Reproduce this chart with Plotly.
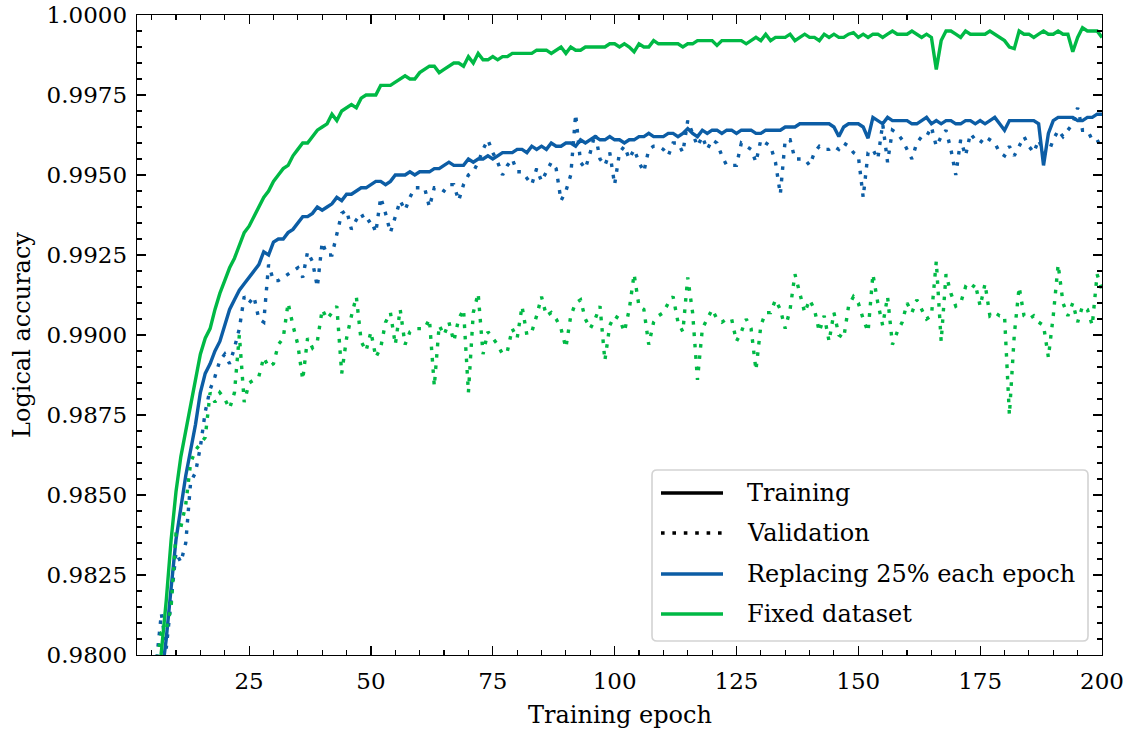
import plotly.graph_objects as go

epochs = list(range(1, 201))

fixed_train = [
    0.9000, 0.9500, 0.9660, 0.9730, 0.9770, 0.9785, 0.9800, 0.9817, 0.9836, 0.9851,
    0.9862, 0.9870, 0.9879, 0.9887, 0.9894, 0.9899, 0.9902, 0.9908, 0.9913, 0.9917,
    0.9921, 0.9924, 0.9928, 0.9932, 0.9934, 0.9937, 0.9940, 0.9943, 0.9945, 0.9948,
    0.9950, 0.9952, 0.9953, 0.9956, 0.9958, 0.9960, 0.9960, 0.9962, 0.9964, 0.9965,
    0.9966, 0.9969, 0.9967, 0.9970, 0.9971, 0.9972, 0.9971, 0.9974, 0.9975, 0.9975,
    0.9975, 0.9978, 0.9978, 0.9978, 0.9979, 0.9980, 0.9981, 0.9980, 0.9980, 0.9982,
    0.9983, 0.9984, 0.9984, 0.9982, 0.9983, 0.9984, 0.9985, 0.9985, 0.9984, 0.9987,
    0.9985, 0.9988, 0.9986, 0.9986, 0.9987, 0.9986, 0.9987, 0.9987, 0.9988, 0.9988,
    0.9988, 0.9988, 0.9988, 0.9989, 0.9989, 0.9989, 0.9988, 0.9989, 0.9990, 0.9988,
    0.9990, 0.9989, 0.9989, 0.9990, 0.9990, 0.9990, 0.9990, 0.9990, 0.9991, 0.9991,
    0.9990, 0.9991, 0.9990, 0.99885, 0.9991, 0.9990, 0.9990, 0.9992, 0.9991, 0.9991,
    0.9991, 0.9991, 0.9991, 0.9990, 0.9991, 0.9991, 0.9992, 0.9992, 0.9992, 0.9992,
    0.99905, 0.9992, 0.9992, 0.9992, 0.9992, 0.9992, 0.9991, 0.9992, 0.9993, 0.9992,
    0.9994, 0.9992, 0.9993, 0.9993, 0.9993, 0.9994, 0.9992, 0.9993, 0.9994, 0.9993,
    0.9993, 0.9992, 0.9994, 0.9993, 0.9994, 0.9993, 0.9993, 0.9994, 0.99945, 0.9993,
    0.9994, 0.9993, 0.9994, 0.9994, 0.9993, 0.9994, 0.9995, 0.9994, 0.9994, 0.9994,
    0.9995, 0.9994, 0.9993, 0.9994, 0.9993, 0.9983, 0.9992, 0.9995, 0.9995, 0.9994,
    0.9993, 0.9995, 0.9994, 0.9994, 0.9994, 0.9994, 0.9995, 0.9994, 0.9993, 0.9992,
    0.9990, 0.99895, 0.9995, 0.9994, 0.9994, 0.9993, 0.9994, 0.9995, 0.9994, 0.9994,
    0.9995, 0.9994, 0.9994, 0.99885, 0.9993, 0.9996, 0.9995, 0.9995, 0.9995, 0.9993,
]

replace_train = [
    0.9000, 0.9400, 0.9600, 0.9700, 0.9750, 0.9780, 0.9792, 0.9805, 0.9821, 0.9836,
    0.9846, 0.9856, 0.9864, 0.9872, 0.9882, 0.9888, 0.9891, 0.9895, 0.9898, 0.9903,
    0.9908, 0.9911, 0.9914, 0.9916, 0.9918, 0.9920, 0.9922, 0.9926, 0.9925, 0.9929,
    0.9930, 0.9930, 0.9932, 0.9933, 0.9935, 0.9937, 0.9937, 0.9938, 0.9940, 0.9939,
    0.9940, 0.9941, 0.9943, 0.9942, 0.9944, 0.9944, 0.9945, 0.9946, 0.9946, 0.9947,
    0.9948, 0.9948, 0.9947, 0.9948, 0.9950, 0.9950, 0.9950, 0.9951, 0.9950, 0.9951,
    0.9951, 0.9951, 0.9952, 0.9952, 0.9953, 0.9954, 0.9953, 0.9953, 0.9953, 0.9955,
    0.9954, 0.9955, 0.9955, 0.9956, 0.9955, 0.9956, 0.9957, 0.9957, 0.9957, 0.9958,
    0.9958, 0.9957, 0.9959, 0.9958, 0.9959, 0.9958, 0.9960, 0.9959, 0.9959, 0.9960,
    0.9960, 0.9959, 0.9961, 0.9960, 0.9961, 0.9962, 0.9961, 0.9961, 0.9962, 0.9961,
    0.9961, 0.9960, 0.9961, 0.9961, 0.9962, 0.9962, 0.9963, 0.9962, 0.9962, 0.9962,
    0.9963, 0.9963, 0.9962, 0.9963, 0.99645, 0.9963, 0.9962, 0.9964, 0.9963, 0.9964,
    0.9964, 0.9963, 0.9964, 0.9964, 0.9963, 0.9964, 0.9964, 0.9964, 0.9963, 0.9963,
    0.9964, 0.9964, 0.9964, 0.9964, 0.9965, 0.9965, 0.9965, 0.9966, 0.9966, 0.9966,
    0.9966, 0.9966, 0.9966, 0.9966, 0.9965, 0.9962, 0.9965, 0.9966, 0.9966, 0.9966,
    0.9965, 0.99615, 0.9968, 0.9967, 0.9966, 0.9968, 0.9967, 0.9967, 0.9967, 0.9967,
    0.9966, 0.9966, 0.9967, 0.9968, 0.9966, 0.9967, 0.9966, 0.9967, 0.9967, 0.9966,
    0.9966, 0.9967, 0.9967, 0.9966, 0.9967, 0.9966, 0.9967, 0.9968, 0.9966, 0.9964,
    0.9967, 0.9967, 0.9967, 0.9967, 0.9967, 0.9967, 0.9966, 0.9953, 0.9963, 0.9967,
    0.9968, 0.9968, 0.9968, 0.9968, 0.9967, 0.9967, 0.9968, 0.9968, 0.9969, 0.9969,
]

replace_val = [
    0.9500, 0.9650, 0.9720, 0.9760, 0.9785, 0.9798, 0.9813, 0.9802, 0.9818, 0.9832,
    0.9829, 0.9835, 0.9854, 0.9857, 0.9865, 0.9876, 0.9883, 0.9887, 0.9892, 0.9894,
    0.9891, 0.9896, 0.9902, 0.9912, 0.9910, 0.9912, 0.9905, 0.9904, 0.9922, 0.9917,
    0.9917, 0.9918, 0.9919, 0.9920, 0.9921, 0.9918, 0.9926, 0.9923, 0.9915, 0.9929,
    0.9925, 0.9925, 0.9931, 0.9938, 0.9939, 0.9933, 0.9936, 0.9938, 0.9935, 0.9936,
    0.9932, 0.9943, 0.9938, 0.9932, 0.9937, 0.9942, 0.9939, 0.9943, 0.9946, 0.9946,
    0.9946, 0.9940, 0.9946, 0.9946, 0.9945, 0.9947, 0.9947, 0.9942, 0.9947, 0.9950,
    0.9951, 0.9954, 0.9958, 0.9961, 0.9957, 0.9954, 0.9950, 0.9953, 0.9955, 0.9951,
    0.9951, 0.9949, 0.9947, 0.9952, 0.9948, 0.9951, 0.9954, 0.9952, 0.9942, 0.9945,
    0.9950, 0.9969, 0.9954, 0.9952, 0.9957, 0.9963, 0.9955, 0.9953, 0.9957, 0.9947,
    0.9957, 0.9959, 0.9955, 0.9958, 0.9954, 0.9951, 0.9958, 0.9959, 0.9959, 0.9958,
    0.9956, 0.9960, 0.9960, 0.9957, 0.9967, 0.9963, 0.9959, 0.9962, 0.9958, 0.9961,
    0.9960, 0.9956, 0.9953, 0.9953, 0.9953, 0.9960, 0.9959, 0.9958, 0.9954, 0.9961,
    0.9960, 0.9959, 0.9954, 0.9944, 0.9961, 0.9961, 0.9955, 0.9955, 0.9955, 0.9953,
    0.9957, 0.9959, 0.9958, 0.9958, 0.9959, 0.9958, 0.9960, 0.9959, 0.9957, 0.9956,
    0.9943, 0.9957, 0.9958, 0.9955, 0.9966, 0.9954, 0.9964, 0.9963, 0.9961, 0.9958,
    0.9955, 0.9960, 0.9962, 0.9962, 0.9965, 0.9959, 0.9962, 0.9964, 0.9958, 0.9950,
    0.9961, 0.9956, 0.9963, 0.9961, 0.9960, 0.9962, 0.9961, 0.9960, 0.9957, 0.9956,
    0.9959, 0.9956, 0.9959, 0.9962, 0.9959, 0.9957, 0.9961, 0.9957, 0.9957, 0.9961,
    0.9964, 0.9962, 0.9964, 0.9966, 0.9971, 0.9964, 0.9964, 0.9961, 0.9961, 0.9958,
]

fixed_val = [
    0.9450, 0.9620, 0.9700, 0.9750, 0.9780, 0.9797, 0.9807, 0.9808, 0.9815, 0.9838,
    0.9840, 0.9847, 0.9860, 0.9864, 0.9866, 0.9868, 0.9882, 0.9879, 0.9882, 0.9880,
    0.9877, 0.9882, 0.9900, 0.9879, 0.9885, 0.9886, 0.9887, 0.9893, 0.9890, 0.9891,
    0.9897, 0.9899, 0.9910, 0.9903, 0.9897, 0.9886, 0.9899, 0.9896, 0.9898, 0.9908,
    0.9905, 0.9907, 0.9909, 0.9888, 0.9899, 0.9906, 0.9912, 0.9898, 0.9895, 0.9901,
    0.9893, 0.9896, 0.9904, 0.9907, 0.9897, 0.9908, 0.9897, 0.9901, 0.9902, 0.9902,
    0.9902, 0.9905, 0.9884, 0.9903, 0.9900, 0.9904, 0.9898, 0.9905, 0.9908, 0.9882,
    0.9907, 0.9913, 0.9894, 0.9901, 0.9899, 0.9897, 0.9894, 0.9895, 0.9902, 0.9899,
    0.9909, 0.9900, 0.9901, 0.9906, 0.9912, 0.9906, 0.9907, 0.9905, 0.9902, 0.9896,
    0.9906, 0.9910, 0.9911, 0.9905, 0.9902, 0.9905, 0.9909, 0.9892, 0.9903, 0.9906,
    0.9905, 0.9901, 0.9908, 0.9919, 0.9909, 0.9908, 0.9897, 0.9904, 0.9906, 0.9907,
    0.9910, 0.9912, 0.9904, 0.9901, 0.9918, 0.9907, 0.9886, 0.9902, 0.9905, 0.9908,
    0.9905, 0.9904, 0.9905, 0.9905, 0.9898, 0.9901, 0.9905, 0.9902, 0.9889, 0.9903,
    0.9907, 0.9907, 0.9911, 0.9908, 0.9902, 0.9908, 0.9919, 0.9913, 0.9907, 0.9911,
    0.9908, 0.9901, 0.9906, 0.9898, 0.9907, 0.9900, 0.9899, 0.9909, 0.9912, 0.9910,
    0.9905, 0.9901, 0.9919, 0.9910, 0.9903, 0.9912, 0.9897, 0.9901, 0.9904, 0.9910,
    0.9907, 0.9911, 0.9908, 0.9905, 0.9906, 0.9923, 0.9898, 0.9919, 0.9913, 0.9909,
    0.9910, 0.9915, 0.9914, 0.9916, 0.9909, 0.9916, 0.9906, 0.9907, 0.9906, 0.9906,
    0.9875, 0.9900, 0.9915, 0.9906, 0.9905, 0.9906, 0.9904, 0.9903, 0.9893, 0.9906,
    0.9922, 0.9910, 0.9906, 0.9910, 0.9904, 0.9909, 0.9908, 0.9903, 0.9919, 0.9914,
]

legend_labels = ["Training", "Validation", "Replacing 25% each epoch", "Fixed dataset"]

BLUE = "#0C5DA5"
GREEN = "#00B945"
FONT = "DejaVu Serif"
LW = 3.4
DOT = "3.6px,7.8px"

W, H = 1131, 731
PLOT_L, PLOT_R, PLOT_T, PLOT_B = 137, 1102, 15, 655   # page pixels
PW, PH = PLOT_R - PLOT_L, PLOT_B - PLOT_T
ML, MT = PLOT_L, PLOT_T
MR, MB = W - ML - PW, H - MT - PH


def px_x(px):
    return (px - PLOT_L) / PW


def px_y(py):
    return (PLOT_B - py) / PH


fig = go.Figure()

series = [
    (replace_train, BLUE, "solid"),
    (replace_val, BLUE, DOT),
    (fixed_train, GREEN, "solid"),
    (fixed_val, GREEN, DOT),
]
for ys, col, dash in series:
    fig.add_trace(go.Scatter(x=epochs, y=ys, mode="lines",
                             line=dict(color=col, width=LW, dash=dash),
                             showlegend=False, hoverinfo="skip"))

axis_common = dict(
    showline=True, linecolor="black", linewidth=1.3, mirror="ticks",
    ticks="inside", ticklen=9, tickwidth=1.2, tickcolor="black",
    showgrid=False, zeroline=False, automargin=False,
    ticklabeloverflow="allow",
    tickfont=dict(family=FONT, size=23, color="black"),
)

fig.update_xaxes(
    range=[2, 200], tick0=0, dtick=25, ticklabelstandoff=5,
    minor=dict(ticks="inside", ticklen=5, tickwidth=1.1, tickcolor="black",
               tick0=0, dtick=5, showgrid=False),
    **axis_common,
)
fig.update_yaxes(
    range=[0.98, 1.0], tick0=0.98, dtick=0.0025, tickformat=".4f",
    ticklabelstandoff=4,
    minor=dict(ticks="inside", ticklen=5, tickwidth=1.1, tickcolor="black",
               tick0=0.98, dtick=0.0005, showgrid=False),
    **axis_common,
)

annotations = [
    dict(text="Training epoch", x=0.5, y=0, xref="paper", yref="paper",
         xanchor="center", yanchor="middle", yshift=-60, showarrow=False,
         font=dict(family=FONT, size=24, color="black")),
    dict(text="Logical accuracy", x=0, y=0.5, xref="paper", yref="paper",
         xanchor="center", yanchor="middle", xshift=-(PLOT_L - 22), textangle=-90,
         showarrow=False, font=dict(family=FONT, size=24, color="black")),
]

# legend box with rounded corners
bx0, bx1 = px_x(652), px_x(1088)
by0, by1 = px_y(641), px_y(470)
rx, ry = 5 / PW, 5 / PH
box_path = (
    f"M {bx0 + rx},{by0} L {bx1 - rx},{by0} Q {bx1},{by0} {bx1},{by0 + ry} "
    f"L {bx1},{by1 - ry} Q {bx1},{by1} {bx1 - rx},{by1} "
    f"L {bx0 + rx},{by1} Q {bx0},{by1} {bx0},{by1 - ry} "
    f"L {bx0},{by0 + ry} Q {bx0},{by0} {bx0 + rx},{by0} Z"
)
shapes = [dict(type="path", path=box_path, xref="paper", yref="paper",
               line=dict(color="#d3d3d3", width=1.6),
               fillcolor="rgba(255,255,255,0.85)", layer="above")]

legend_styles = [("black", "solid"), ("black", DOT), (BLUE, "solid"), (GREEN, "solid")]
row_y = [493, 533, 574, 614]
for lab, (col, dash), ry_px in zip(legend_labels, legend_styles, row_y):
    yp = px_y(ry_px)
    shapes.append(dict(type="line", xref="paper", yref="paper",
                       x0=px_x(661), x1=px_x(723), y0=yp, y1=yp,
                       line=dict(color=col, width=LW, dash=dash), layer="above"))
    annotations.append(dict(text=lab, x=px_x(745), y=yp, xref="paper", yref="paper",
                            xanchor="left", yanchor="middle", showarrow=False,
                            font=dict(family=FONT, size=24, color="black")))

fig.update_layout(
    width=W, height=H,
    margin=dict(l=ML, r=MR, t=MT, b=MB),
    paper_bgcolor="white", plot_bgcolor="white",
    font=dict(family=FONT, size=23, color="black"),
    showlegend=False,
    hovermode=False,
    shapes=shapes,
    annotations=annotations,
)

# remove the default 8px page margin so the figure fills the window exactly
fig.write_html("out.html",
               config={"displayModeBar": False, "staticPlot": True},
               post_script="document.body.style.margin='0';"
                           "document.body.style.overflow='hidden';")
